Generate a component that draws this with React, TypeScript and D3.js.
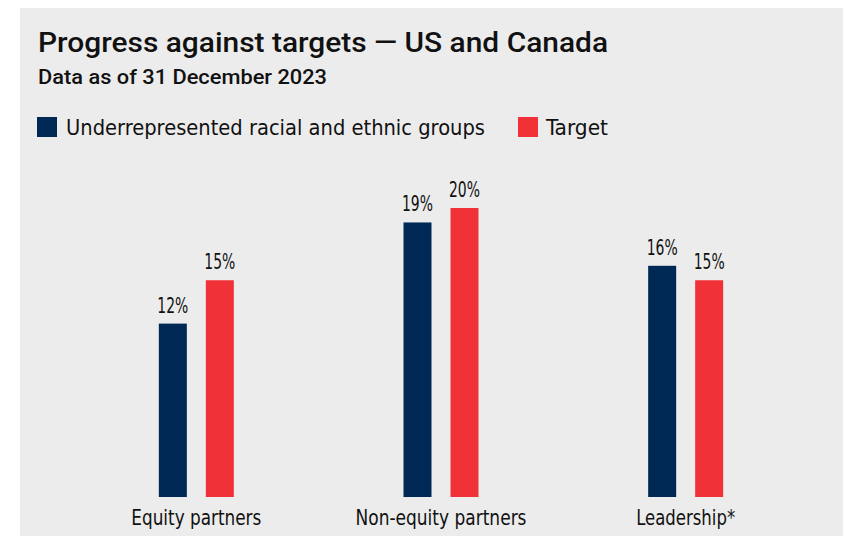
import React from "react";
import * as d3 from "d3";

const categories = ["Equity partners", "Non-equity partners", "Leadership*"];
const seriesNames = ["Underrepresented racial and ethnic groups", "Target"];
const underrepresented = [12, 19, 16];
const target = [15, 20, 15];

const W = 843;
const H = 536;
const NAVY = "#002855";
const RED = "#f03238";
const BG = "#ececec";
const TXT = "#111111";
const FONT = "'DejaVu Sans Condensed', 'Liberation Sans Narrow', sans-serif";
const HFONT = "Roboto, 'DejaVu Sans Condensed', sans-serif";

const catWidths = [130, 171, 99];

export default function App() {
  const baseY = 497;
  const x = d3.scaleBand<string>().domain(categories).range([74, 808]).padding(0);
  const y = d3.scaleLinear().domain([0, 20]).range([baseY, 208]);
  const barW = 28;
  const gap = 19;
  const colors = [NAVY, RED];
  const series = [underrepresented, target];
  const valW = 31;

  return (
    <svg width={W} height={H} style={{ position: "absolute", left: 0, top: 0 }} fontFamily={FONT}>
      <rect x={20} y={8} width={W - 20} height={H - 8} fill={BG} />
      <text x={38} y={52} fontSize={28} fontWeight={500} fill={TXT} fontFamily={HFONT}
        textLength={570} lengthAdjust="spacingAndGlyphs">
        Progress against targets — US and Canada
      </text>
      <text x={38} y={84} fontSize={20} fontWeight={500} fill={TXT} fontFamily={HFONT}
        textLength={289} lengthAdjust="spacingAndGlyphs">
        Data as of 31 December 2023
      </text>
      {/* legend */}
      <rect x={37} y={117} width={20} height={20} fill={NAVY} />
      <text x={66} y={135} fontSize={21} fill={TXT} textLength={419} lengthAdjust="spacingAndGlyphs">{seriesNames[0]}</text>
      <rect x={518} y={117} width={20} height={20} fill={RED} />
      <text x={546} y={135} fontSize={21} fill={TXT} textLength={62} lengthAdjust="spacingAndGlyphs">{seriesNames[1]}</text>

      {categories.map((c, i) => {
        const cx = (x(c) as number) + x.bandwidth() / 2;
        return (
          <g key={c}>
            {series.map((s, j) => {
              const bx = j === 0 ? cx - gap / 2 - barW : cx + gap / 2;
              const v = s[i];
              return (
                <g key={j}>
                  <rect x={bx} y={y(v)} width={barW} height={baseY - y(v)} fill={colors[j]} />
                  <text x={bx + barW / 2 - valW / 2} y={y(v) - 11} fontSize={22} fill={TXT}
                    textLength={valW} lengthAdjust="spacingAndGlyphs">
                    {`${v}%`}
                  </text>
                </g>
              );
            })}
            <text x={cx - catWidths[i] / 2} y={525} fontSize={21} fill={TXT}
              textLength={catWidths[i]} lengthAdjust="spacingAndGlyphs">{c}</text>
          </g>
        );
      })}
    </svg>
  );
}
